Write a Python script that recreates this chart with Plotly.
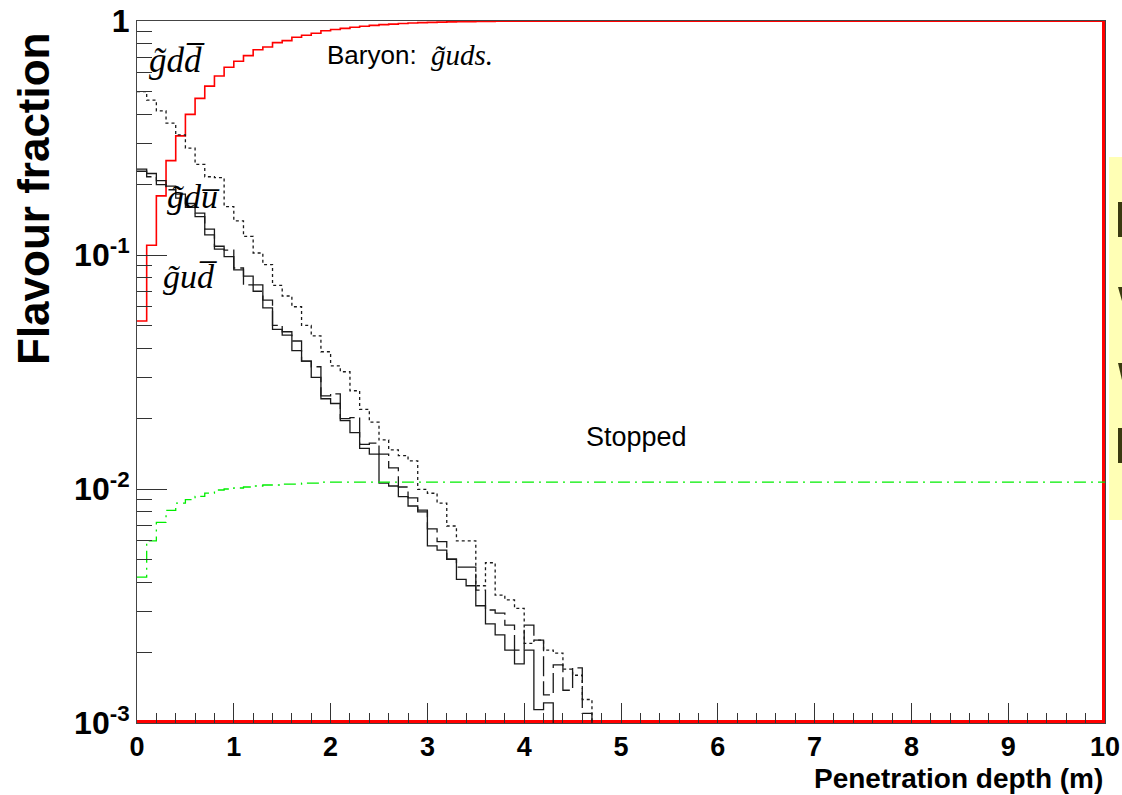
import numpy as np
import plotly.graph_objects as go

# Histogram binning: 100 bins of 0.1 m between 0 and 10 m
BIN_WIDTH = 0.1
N_BINS = 100
X_EDGES = np.round(np.arange(N_BINS + 1) * BIN_WIDTH, 3)

Y_MIN, Y_MAX = 1e-3, 1.0
Y_FLOOR = 1e-5  # empty bins are drawn down to below the axis floor

# Baryon fraction (red)
baryon_guds = [
    0.0522, 0.110, 0.179, 0.253, 0.323, 0.399, 0.467, 0.527, 0.582, 0.634,
    0.673, 0.711, 0.754, 0.774, 0.808, 0.824, 0.852, 0.869, 0.886, 0.909,
    0.920, 0.930, 0.940, 0.950, 0.958, 0.965, 0.970, 0.975, 0.980, 0.984,
    0.987, 0.989, 0.991, 0.993, 0.994, 0.995, 0.996, 0.997, 0.998, 0.998,
] + [0.998] * 60

# Neutral meson g~dd~ (dotted)
meson_gdd = [
    0.499, 0.459, 0.413, 0.366, 0.326, 0.286, 0.244, 0.216, 0.214, 0.161,
    0.140, 0.120, 0.102, 0.091, 0.0741, 0.0668, 0.0601, 0.0500, 0.0451, 0.0386,
    0.0336, 0.0317, 0.0263, 0.0219, 0.0193, 0.0162, 0.0147, 0.0139, 0.0132, 0.00997,
    0.00959, 0.00871, 0.00695, 0.00600, 0.00600, 0.00386, 0.00484, 0.00352, 0.00336, 0.00309,
    0.00219, 0.00226, 0.00205, 0.00199, 0.00170, 0.00160, 0.00126,
] + [0.0] * 53

# Charged meson g~du~ (solid)
meson_gdu = [
    0.233, 0.223, 0.208, 0.197, 0.182, 0.166, 0.151, 0.129, 0.109, 0.0984,
    0.0863, 0.0813, 0.0745, 0.0594, 0.0481, 0.0470, 0.0390, 0.0352, 0.0300, 0.0243,
    0.0232, 0.0196, 0.0174, 0.0149, 0.0141, 0.0106, 0.0103, 0.00927, 0.00846, 0.00813,
    0.00571, 0.00548, 0.00501, 0.00411, 0.00386, 0.00317, 0.00265, 0.00238, 0.00205, 0.00179,
    0.00205, 0.00114, 0.00122,
] + [0.0] * 57

# Charged meson g~ud~ (long dashes)
meson_gud = [
    0.228, 0.216, 0.200, 0.190, 0.175, 0.160, 0.146, 0.122, 0.106, 0.105,
    0.0880, 0.0745, 0.0700, 0.0642, 0.0500, 0.0455, 0.0429, 0.0352, 0.0333, 0.0250,
    0.0255, 0.0200, 0.0202, 0.0155, 0.0157, 0.0141, 0.0123, 0.0102, 0.00916, 0.00798,
    0.00675, 0.00596, 0.00501, 0.00464, 0.00464, 0.00370, 0.00304, 0.00295, 0.00262, 0.00205,
    0.00262, 0.00226, 0.00132, 0.00177, 0.00138, 0.00172, 0.00110,
] + [0.0] * 53

# Stopped fraction (green)
stopped = [
    0.0042, 0.0060, 0.0072, 0.0081, 0.0087, 0.0090, 0.0093, 0.0096, 0.0099, 0.0100,
    0.0101, 0.0102, 0.0103, 0.0104, 0.0104, 0.0105, 0.0105, 0.0106, 0.0106, 0.0107,
] + [0.0107] * 80

Y_TICK_VALS = [1e-3, 1e-2, 1e-1, 1]
Y_TICK_TEXT = ["10<sup>-3</sup>", "10<sup>-2</sup>", "10<sup>-1</sup>", "1"]
X_TICK_VALS = list(range(0, 11))


def step_xy(values):
    """Histogram outline: left bin edges plus the last right edge, empty bins sent below the floor."""
    v = np.asarray(values, dtype=float)
    v = np.where(v > 0, v, Y_FLOOR)
    x = list(X_EDGES)
    y = list(v) + [v[-1]]
    return x, y


fig = go.Figure()

# Red baryon histogram, closed down to the axis at the right-hand end
bx, by = step_xy(baryon_guds)
bx = bx + [X_EDGES[-1]]
by = by + [Y_FLOOR]
fig.add_trace(go.Scatter(x=bx, y=by, mode="lines", line=dict(color="#ff0000", width=1.6, shape="hv"),
                         hoverinfo="skip", showlegend=False))
# its base line along the bottom and the closing edge at x = 10
fig.add_trace(go.Scatter(x=[X_EDGES[0], X_EDGES[-1], X_EDGES[-1]], y=[Y_MIN, Y_MIN, Y_MAX],
                         mode="lines", line=dict(color="#ff0000", width=6),
                         hoverinfo="skip", showlegend=False))

for vals, dash in [(meson_gdd, "3px,3px"), (meson_gud, "20px,5px"), (meson_gdu, "solid")]:
    sx, sy = step_xy(vals)
    fig.add_trace(go.Scatter(x=sx, y=sy, mode="lines",
                             line=dict(color="#1a1a1a", width=1.3, shape="hv", dash=dash),
                             hoverinfo="skip", showlegend=False))

gx, gy = step_xy(stopped)
fig.add_trace(go.Scatter(x=gx, y=gy, mode="lines",
                         line=dict(color="#00ee00", width=1.3, shape="hv", dash="12px,5px,2px,5px"),
                         hoverinfo="skip", showlegend=False))

L, R, T, B = 137, 17, 21, 72
W, H = 1122, 795
PW, PH = W - L - R, H - T - B


def px(xp):
    return (xp - L) / PW


def py(yp):
    return 1 - (yp - T) / PH


ital = "Liberation Serif, Times New Roman, serif"
sans = "Liberation Sans, Arial, Helvetica, sans-serif"

annotations = [
    dict(x=px(147), y=py(60), text="<i>g\u0303dd\u0305</i>", font=dict(family=ital, size=35, color="black"),
         xanchor="left", yanchor="middle"),
    dict(x=px(325), y=py(55), text="Baryon:", font=dict(family=sans, size=26, color="black"),
         xanchor="left", yanchor="middle"),
    dict(x=px(429), y=py(55), text="<i>g\u0303uds.</i>", font=dict(family=ital, size=29, color="black"),
         xanchor="left", yanchor="middle"),
    dict(x=px(165), y=py(196), text="<i>g\u0303du\u0305</i>", font=dict(family=ital, size=34, color="black"),
         xanchor="left", yanchor="middle"),
    dict(x=px(161), y=py(276), text="<i>g\u0303ud\u0305</i>", font=dict(family=ital, size=34, color="black"),
         xanchor="left", yanchor="middle"),
    dict(x=px(636), y=py(437), text="Stopped", font=dict(family=sans, size=27, color="black"),
         xanchor="center", yanchor="middle"),
    dict(x=1.0, y=py(778), text="<b>Penetration depth (m)</b>", font=dict(family=sans, size=28, color="black"),
         xanchor="right", yanchor="middle"),
    dict(x=px(33), y=py(199), text="<b>Flavour fraction</b>", font=dict(family=sans, size=44, color="black"),
         textangle=-90, xanchor="center", yanchor="middle"),
]
for a in annotations:
    a.update(xref="paper", yref="paper", showarrow=False)

# Partially visible legend box at the right edge of the canvas
shapes = [
    dict(type="rect", xref="paper", yref="paper", x0=px(1109), x1=px(1130), y0=py(520), y1=py(157),
         fillcolor="rgba(255,255,120,0.55)", line=dict(width=0), layer="above"),
    dict(type="rect", xref="paper", yref="paper", x0=px(1118), x1=px(1130), y0=py(237), y1=py(202),
         fillcolor="#3a3a10", line=dict(width=0), layer="above"),
    dict(type="rect", xref="paper", yref="paper", x0=px(1118), x1=px(1130), y0=py(463), y1=py(428),
         fillcolor="#3a3a10", line=dict(width=0), layer="above"),
    dict(type="path", xref="paper", yref="paper", layer="above",
         path=f"M {px(1118)},{py(287)} L {px(1122)},{py(287)} L {px(1122)},{py(301)} Z",
         fillcolor="#3a3a10", line=dict(width=0)),
    dict(type="path", xref="paper", yref="paper", layer="above",
         path=f"M {px(1118)},{py(363)} L {px(1122)},{py(363)} L {px(1122)},{py(380)} Z",
         fillcolor="#3a3a10", line=dict(width=0)),
]

fig.update_layout(
    width=W, height=H,
    margin=dict(l=L, r=R, t=T, b=B, autoexpand=False),
    paper_bgcolor="white", plot_bgcolor="white",
    annotations=annotations, shapes=shapes,
    font=dict(family=sans, color="black"),
)

fig.update_xaxes(
    range=[0, 10], showgrid=False, zeroline=False, automargin=False,
    showline=True, linecolor="#444", linewidth=1, mirror=True,
    ticks="inside", ticklen=20, tickwidth=1, tickcolor="#333",
    tickvals=X_TICK_VALS, ticktext=[f"<b>{v}</b>" for v in X_TICK_VALS],
    tickfont=dict(family=sans, size=27, color="black"),
    minor=dict(dtick=0.2, ticklen=10, tickwidth=1, tickcolor="#333", ticks="inside", showgrid=False),
)
fig.update_yaxes(
    type="log", range=[np.log10(Y_MIN), np.log10(Y_MAX)], showgrid=False, zeroline=False, automargin=False,
    showline=True, linecolor="#444", linewidth=1, mirror=True,
    ticks="inside", ticklen=30, tickwidth=1, tickcolor="#333",
    tickvals=Y_TICK_VALS, ticktext=[f"<b>{t}</b>" for t in Y_TICK_TEXT],
    tickfont=dict(family=sans, size=32, color="black"),
    minor=dict(dtick="D1", ticklen=15, tickwidth=1, tickcolor="#333", ticks="inside", showgrid=False),
)

fig.write_html("out.html")
